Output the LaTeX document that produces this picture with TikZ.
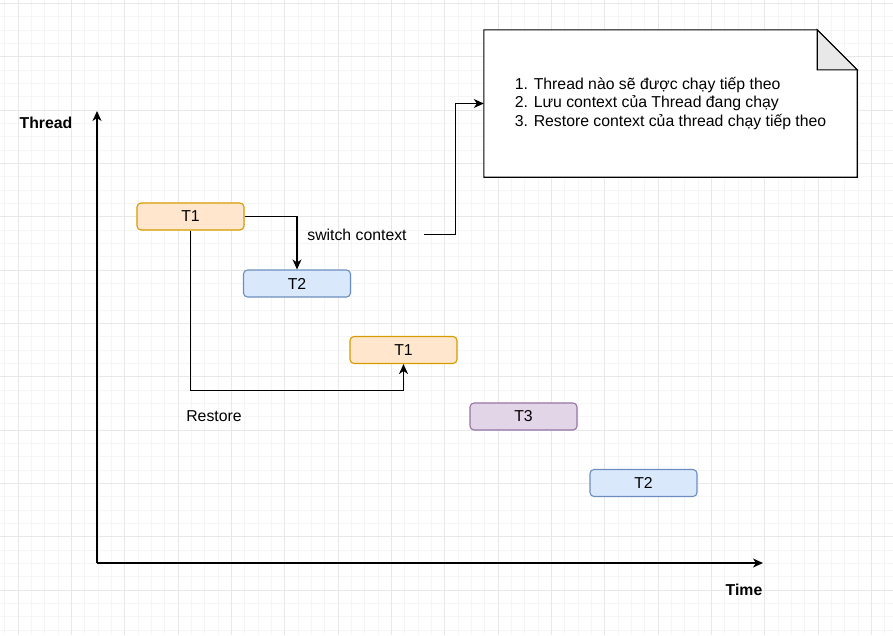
\documentclass[tikz,border=0pt]{standalone}
\usepackage{fontspec}
\setmainfont{Liberation Sans}
\usetikzlibrary{arrows.meta,calc}
\definecolor{orfill}{HTML}{FFE6CC}\definecolor{ordraw}{HTML}{D79B00}
\definecolor{blfill}{HTML}{DAE8FC}\definecolor{bldraw}{HTML}{6C8EBF}
\definecolor{pufill}{HTML}{E1D5E7}\definecolor{pudraw}{HTML}{9673A6}
\begin{document}
\begin{tikzpicture}[x=1pt,y=-1pt,font=\fontsize{15.8}{18.6}\selectfont,
  task/.style={draw,rounded corners=4pt,line width=1.1pt,minimum width=107pt,minimum height=27pt,inner sep=0pt},
  conn/.style={line width=1.2pt,-{Stealth[length=10pt,width=9pt,inset=3pt]}},
  gridmin/.style={black!4,line width=0.7pt}, gridmaj/.style={black!9,line width=0.7pt}]
  \useasboundingbox[fill=white] (0,0) rectangle (893,635);
  % background grid
  \foreach \i in {0,...,66} \draw[gridmin] ({4.667+13.333*\i},0) -- ++(0,635);
  \foreach \j in {0,...,47} \draw[gridmin] (0,{3.333+13.333*\j}) -- ++(893,0);
  \foreach \i in {0,...,16} \draw[gridmaj] ({18+53.333*\i},0) -- ++(0,635);
  \foreach \j in {0,...,11} \draw[gridmaj] (0,{3.333+53.333*\j}) -- ++(893,0);
  % axes
  \coordinate (origin) at (97,563); \coordinate (ytip) at (97,111); \coordinate (xtip) at (763,563);
  \draw[conn] (origin) -- (ytip); \draw[conn] (origin) -- (xtip);
  \node[font=\fontsize{15.8}{18.6}\selectfont\bfseries] (ylab) at (46,123) {Thread};
  \node[font=\fontsize{15.8}{18.6}\selectfont\bfseries] (xlab) at (744,590) {Time};
  % threads
  \node[task,fill=orfill,draw=ordraw] (t1a) at (190.5,216.5) {T1};
  \node[task,fill=blfill,draw=bldraw] (t2a) at (297,283.5) {T2};
  \node[task,fill=orfill,draw=ordraw] (t1b) at (403.5,350) {T1};
  \node[task,fill=pufill,draw=pudraw] (t3) at (523.5,416.5) {T3};
  \node[task,fill=blfill,draw=bldraw] (t2b) at (643.5,483) {T2};
  \draw[conn] (t1a.east) -| (t2a.north);
  \draw[conn] (t1a.south) -- ++(0,160) -| (t1b.south);
  \node (swlab) at (357,234.5) [minimum width=134pt,inner sep=0pt] {switch context};
  \node (restlab) at (214,416) {Restore};
  % note
  \node (note) at (670.5,103.5) [minimum width=373pt,minimum height=147pt,inner sep=0pt] {};
  \draw[line width=1.1pt,fill=white] (note.north west) -- ($(note.north east)+(-40,0)$) -- ($(note.north east)+(0,40)$) -- (note.south east) -- (note.south west) -- cycle;
  \draw[line width=1.1pt,fill=black!9] ($(note.north east)+(-40,0)$) -- ++(0,40) -- ++(40,0) -- cycle;
  \node[align=left] (notetext) at (note) {1. Thread nào sẽ được chạy tiếp theo\\2. Lưu context của Thread đang chạy\\3. Restore context của thread chạy tiếp theo};
  \draw[conn] (swlab.east) -- ++(31,0) |- (note.west);
\end{tikzpicture}
\end{document}
